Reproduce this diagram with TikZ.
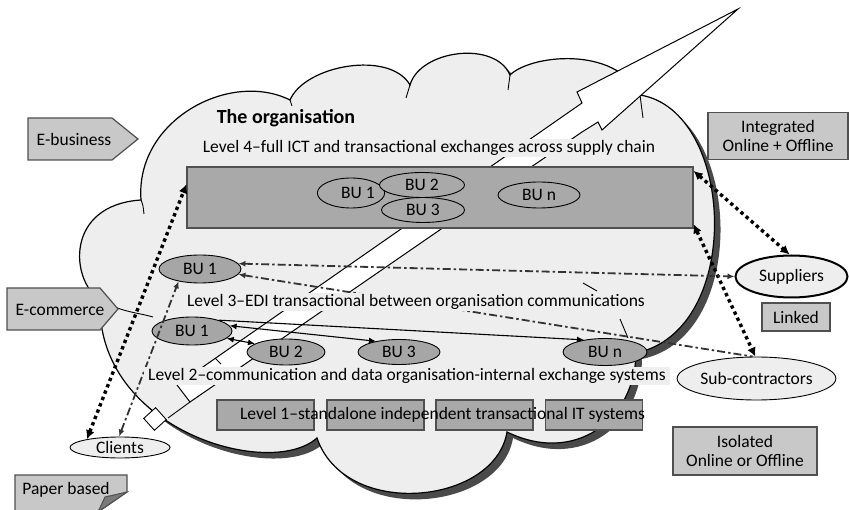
\documentclass[tikz,border=0pt]{standalone}
\usepackage{fontspec}
\setmainfont{Carlito}
\usetikzlibrary{arrows.meta,shapes.geometric}
\definecolor{cloudfill}{HTML}{EEEEEE}
\definecolor{cloudshade}{HTML}{4A4A4A}
\definecolor{boxgray}{HTML}{C8C8C8}
\definecolor{unitgray}{HTML}{A6A6A6}
\definecolor{bandgray}{HTML}{A9A9A9}
\definecolor{edgegray}{HTML}{505050}
\definecolor{foldgray}{HTML}{7A7A7A}
\definecolor{linkgray}{HTML}{333333}

% outline of the organisation cloud (page units, y pointing down)
\def\orgcloud{(100,300) .. controls (70,280) and (65,205) .. (141,200)
  .. controls (135,120) and (230,70) .. (290,100)
  .. controls (305,65) and (390,50) .. (410,85)
  .. controls (420,50) and (495,40) .. (510,75)
  .. controls (530,55) and (615,45) .. (640,95)
  .. controls (735,110) and (745,330) .. (636,353)
  .. controls (635,420) and (575,465) .. (507,432)
  .. controls (495,505) and (345,520) .. (317,438)
  .. controls (270,480) and (95,430) .. (100,300) -- cycle}

\begin{document}
\begin{tikzpicture}[x=1pt,y=-1pt,
  font=\fontsize{17.5}{19}\selectfont,
  >={Latex[length=7pt,width=6pt]},
  unit/.style={ellipse, draw=black, line width=0.9pt, fill=unitgray, inner sep=0pt},
  partner/.style={ellipse, draw=black, line width=0.9pt, fill=cloudfill, inner sep=0pt},
  tag/.style={rectangle, draw=edgegray, line width=1.2pt, fill=boxgray, inner sep=0pt, align=center},
  levelbox/.style={rectangle, draw=edgegray, line width=1.1pt, fill=bandgray, inner sep=0pt},
  lvl/.style={fill=cloudfill, inner xsep=4pt, inner ysep=1pt},
  dotlink/.style={line width=3.4pt, dash pattern=on 3.4pt off 3.4pt, {Latex[length=9pt,width=9pt]}-{Latex[length=9pt,width=9pt]}},
  dashlink/.style={draw=linkgray, line width=1.8pt, dash pattern=on 8pt off 3pt on 2.5pt off 3pt},
  solidlink/.style={draw=black, line width=1.1pt},
  thin/.style={draw=black, line width=0.9pt}]
\useasboundingbox[fill=white] (0,0) rectangle (849,510);

% cloud with its shadow
\fill[cloudshade, shift={(6,6)}] \orgcloud;
\filldraw[fill=cloudfill, draw=black, line width=1.2pt] \orgcloud;
% inner ends of the cloud lobes
\draw[thin] (141,200) .. controls (143,205) .. (144,214);
\draw[thin] (290,100) -- (292,106);
\draw[thin] (410,85) -- (406,98);
\draw[thin] (510,75) -- (508,90);
\draw[thin] (640,95) -- (643,118);
\draw[thin] (100,300) .. controls (120,312) and (140,313) .. (153,317);
\draw[thin] (583,283) -- (597,291);
\draw[thin] (620,319) -- (628,338);

% lightning bolt
\filldraw[fill=white, draw=black, line width=1pt, line join=miter]
  (738,9) -- (577,92) -- (582,103) -- (177,385) -- (190,402)
  -- (582,132) -- (598,122) -- (602,130) -- cycle;
\draw[thin] (215,358) -- (221,364);
\draw[thin] (190,402) -- (168,418);
\node[draw=black, line width=0.9pt, fill=white, minimum size=16pt, inner sep=0pt, rotate=42] (boltend) at (155,419) {};

% level 4 band
\node[rectangle, draw=edgegray, line width=1.1pt, fill=bandgray, minimum width=506pt, minimum height=61pt, inner sep=0pt] (lv4) at (440,197.5) {};
\node[unit, fill=bandgray, minimum width=63pt, minimum height=30pt] (l4u1) at (351,193) {\hspace*{14pt}BU 1};
\node[unit, fill=bandgray, minimum width=85pt, minimum height=25pt] (l4u2) at (422,185) {BU 2};
\node[unit, fill=bandgray, minimum width=83pt, minimum height=25pt] (l4u3) at (423,210) {BU 3};
\node[unit, fill=bandgray, minimum width=82pt, minimum height=26pt] (l4un) at (539,195) {BU n};

% partners outside the cloud
\node[partner, line width=2pt, minimum width=112pt, minimum height=42pt] (suppliers) at (791.5,276.5) {Suppliers};
\node[partner, minimum width=153pt, minimum height=43pt] (subcon) at (756.5,378.5) {Sub-contractors};
\node[partner, minimum width=100pt, minimum height=21pt] (clients) at (120,447.5) {Clients};

% level 3 and level 2 units
\node[unit, minimum width=82pt, minimum height=28pt] (l3u1) at (200,269) {BU 1};
\node[unit, minimum width=80pt, minimum height=28pt] (l2u1) at (192,331) {BU 1};
\node[unit, minimum width=78pt, minimum height=26pt] (l2u2) at (286,352) {BU 2};
\node[unit, minimum width=82pt, minimum height=25pt] (l2u3) at (399,352) {BU 3};
\node[unit, minimum width=84pt, minimum height=27pt] (l2un) at (605,352) {BU n};

% exchanges
\draw[dotlink] (clients.166) -- (lv4.177);
\draw[dotlink] (lv4.6) -- (suppliers.95);
\draw[dotlink] (lv4.-6.5) -- (subcon.93);
\draw[dashlink, <->] (l3u1.8) -- (suppliers.west);
\draw[dashlink, <-] (l3u1.-8) -- (subcon.100);
\draw[dashlink, <->] (clients.95) -- (l3u1.210);
\draw[solidlink, ->] (l2u1.22) -- (l2un.150);
\draw[solidlink, <->] (l2u1.8) -- (l2u3.155);
\draw[solidlink, <->] (l2u1.-12) -- (l2u2.165);

% level captions
\node[font=\fontsize{20}{21}\selectfont\bfseries] (org) at (286,118) {The organisation};
\node[lvl] (lv4t) at (429,148) {Level 4\textendash full ICT and transactional exchanges across supply chain};
\node[lvl] (lv3t) at (416,302) {Level 3\textendash EDI transactional between organisation communications};
\node[lvl] (lv2t) at (407,376) {Level 2\textendash communication and data organisation-internal exchange systems};

% level 1 systems
\node[levelbox, minimum width=97pt, minimum height=30pt] (s1) at (265.5,415) {};
\node[levelbox, minimum width=97pt, minimum height=30pt] (s2) at (375.5,415) {};
\node[levelbox, minimum width=97pt, minimum height=30pt] (s3) at (484.5,415) {};
\node[levelbox, minimum width=97pt, minimum height=30pt] (s4) at (594,415) {};
\node (lv1t) at (442.5,415) {Level 1\textendash standalone independent transactional IT systems};

% degree of integration
\node[tag, minimum width=140pt, minimum height=47pt] (integrated) at (778,136) {Integrated\\Online + Offline};
\node[tag, minimum width=68pt, minimum height=28pt] (linked) at (796,317) {Linked};
\node[tag, minimum width=144pt, minimum height=48pt] (isolated) at (745,451) {Isolated\\Online or Offline};

% kinds of trade
\filldraw[fill=boxgray, draw=edgegray, line width=1.2pt] (28,118) -- (112,118) -- (138,139) -- (112,160) -- (28,160) -- cycle;
\node (ebiz) at (74,139) {E-business};
\filldraw[fill=boxgray, draw=edgegray, line width=1.2pt] (7,288) -- (100,288) -- (118,309) -- (100,330) -- (7,330) -- cycle;
\node (ecom) at (60,310) {E-commerce};
\filldraw[fill=boxgray, draw=edgegray, line width=1.2pt] (15,475) -- (127,475) -- (127,492) -- (98,512) -- (15,512) -- cycle;
\filldraw[fill=foldgray, draw=edgegray, line width=1pt] (127,492) -- (105,497) -- (98,512) -- cycle;
\node (paper) at (66,490) {Paper based};
\end{tikzpicture}
\end{document}
